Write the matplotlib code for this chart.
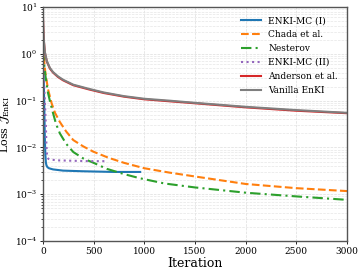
import numpy as np
import matplotlib
matplotlib.use("Agg")
import matplotlib.pyplot as plt

plt.rcParams["font.family"] = "DejaVu Serif"
plt.rcParams["mathtext.fontset"] = "dejavuserif"

# Vanilla EnKI / Anderson et al.
it_van = [0, 5, 10, 20, 40, 70, 100, 150, 200, 300, 450, 600, 800, 1000, 1250, 1500, 2000, 2500, 3000]
loss_van = [8, 3.5, 2.0, 1.1, 0.7, 0.5, 0.41, 0.33, 0.28, 0.22, 0.18, 0.15, 0.125, 0.11, 0.1, 0.09, 0.074, 0.063, 0.055]
loss_and = [7.6, 3.35, 1.92, 1.06, 0.68, 0.485, 0.4, 0.32, 0.272, 0.214, 0.175, 0.146, 0.122, 0.107, 0.097, 0.088, 0.072, 0.061, 0.054]

# Chada et al.
it_chada = [0, 10, 25, 50, 86, 120, 168, 230, 300, 400, 500, 650, 800, 1000, 1250, 1500, 2000, 2500, 3000]
loss_chada = [1.5, 0.8, 0.4, 0.18, 0.089, 0.055, 0.035, 0.022, 0.0144, 0.0105, 0.0081, 0.006,
              0.0047, 0.0036, 0.0029, 0.0024, 0.00166, 0.00135, 0.00117]

# Nesterov
it_nest = [0, 10, 25, 50, 69, 100, 130, 168, 230, 300, 400, 500, 630, 800, 957, 1200, 1500, 2000, 2500, 3000]
loss_nest = [1.2, 0.7, 0.35, 0.15, 0.1, 0.055, 0.032, 0.02, 0.012, 0.008, 0.0058, 0.0047, 0.0035,
             0.0027, 0.0022, 0.0017, 0.0014, 0.00108, 0.0009, 0.00076]

# ENKI-MC (I)
it_mc1 = [0, 5, 10, 15, 20, 25, 30, 35, 45, 60, 100, 200, 400, 700, 960]
loss_mc1 = [1.0, 0.5, 0.2, 0.06, 0.015, 0.007, 0.0048, 0.0042, 0.0038, 0.0036, 0.0034, 0.0032, 0.0031, 0.003, 0.003]

# ENKI-MC (II)
it_mc2 = [0, 10, 20, 30, 35, 40, 45, 55, 80, 150, 300, 450, 620]
loss_mc2 = [0.6, 0.3, 0.1, 0.03, 0.012, 0.0075, 0.0062, 0.0057, 0.0055, 0.0053, 0.0052, 0.0051, 0.0051]

fig = plt.figure(figsize=(3.63, 2.73), dpi=100)
ax = fig.add_axes([0.118, 0.117, 0.838, 0.857])

lw = 1.5
ax.plot(it_mc1, loss_mc1, color="#1f77b4", lw=lw, label="ENKI-MC (I)")
ax.plot(it_chada, loss_chada, color="#ff7f0e", lw=lw, ls="--", label="Chada et al.")
ax.plot(it_nest, loss_nest, color="#2ca02c", lw=lw, ls=(0, (5, 2, 1, 2)), label="Nesterov")
ax.plot(it_mc2, loss_mc2, color="#9467bd", lw=lw, ls=":", label="ENKI-MC (II)")
ax.plot(it_van, loss_and, color="#d62728", lw=lw, label="Anderson et al.")
ax.plot(it_van, loss_van, color="#7f7f7f", lw=lw, label="Vanilla EnKI")

ax.set_yscale("log")
ax.set_xlim(0, 3000)
ax.set_ylim(1e-4, 1e1)
ax.set_xticks([0, 500, 1000, 1500, 2000, 2500, 3000])
ax.grid(True, which="major", ls="--", lw=0.5, color="#dddddd")
ax.grid(True, which="minor", axis="y", ls="--", lw=0.5, color="#e6e6e6")
ax.tick_params(labelsize=6.5, length=2.5, width=0.6, pad=1.5)
ax.tick_params(which="minor", length=1.5, width=0.5)
for s in ax.spines.values():
    s.set_color("#555555")
    s.set_linewidth(1.0)

ax.set_xlabel("Iteration", fontsize=9, labelpad=1)
ax.set_ylabel(r"Loss $\mathcal{J}_{\rm EnKI}$", fontsize=8)
ax.yaxis.set_label_coords(-0.1, 0.5)
ax.legend(loc="upper right", frameon=False, fontsize=6.5, handlelength=2.2,
          labelspacing=0.55, borderaxespad=0.6)

fig.savefig("out.png", dpi=100)
